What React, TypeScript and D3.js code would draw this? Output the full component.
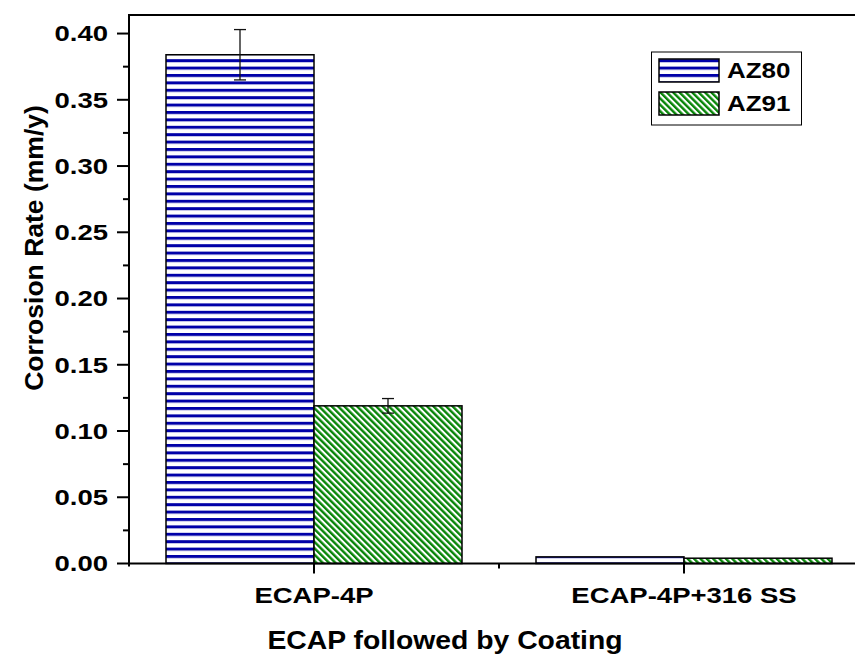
import React from "react";
import * as d3 from "d3";

const categories = ["ECAP-4P", "ECAP-4P+316 SS"];
const seriesNames = ["AZ80", "AZ91"];
const az80 = [0.384, 0.005];
const az80Err = [0.019, 0];
const az91 = [0.119, 0.004];
const az91Err = [0.0055, 0];
const yTicks = [0, 0.05, 0.1, 0.15, 0.2, 0.25, 0.3, 0.35, 0.4];
const yMinor = [0.025, 0.075, 0.125, 0.175, 0.225, 0.275, 0.325, 0.375];

const W = 855;
const H = 654;
const FONT = "'Liberation Sans', Arial, sans-serif";

function T({ x, y, sx = 1, anchor = "start", size, children, dy = "0" }: any) {
  return (
    <text
      transform={`translate(${x},${y}) scale(${sx},1)`}
      dy={dy}
      textAnchor={anchor}
      fontFamily={FONT}
      fontWeight="bold"
      fontSize={size}
      fill="#000"
    >
      {children}
    </text>
  );
}

export default function App() {
  const left = 129, top = 15, right = 869, bottom = 563.5;
  const x = d3.scaleLinear().domain([0.5, 2.5]).range([left, right]);
  const y = d3.scaleLinear().domain([0, 0.414]).range([bottom, top]);
  const bw = x(0.4) - x(0);
  const series = [
    { name: seriesNames[0], vals: az80, errs: az80Err, fill: "url(#hstripe)", off: -1 },
    { name: seriesNames[1], vals: az91, errs: az91Err, fill: "url(#dstripe)", off: 0 },
  ];
  return (
    <svg width={W} height={H} style={{ position: "absolute", left: 0, top: 0, background: "#fff" }}>
      <defs>
        <pattern id="hstripe" patternUnits="userSpaceOnUse" width={8} height={7.4}>
          <rect width={8} height={7.4} fill="#fff" />
          <rect y={0} width={8} height={3} fill="#0000a8" />
        </pattern>
        <pattern id="dstripe" patternUnits="userSpaceOnUse" width={4.5} height={8} patternTransform="rotate(-45)">
          <rect width={4.5} height={8} fill="#fff" />
          <rect x={0} width={2.4} height={8} fill="#078507" />
        </pattern>
      </defs>
      {series.map((s) =>
        s.vals.map((v, i) => {
          const x0 = x(i + 1) + s.off * bw;
          return (
            <g key={s.name + i}>
              <rect x={x0} y={y(v)} width={bw} height={y(0) - y(v)} fill={s.fill} stroke="#000" strokeWidth={1.5} />
              {s.errs[i] > 0 && (
                <g stroke="#111" strokeWidth={1.3}>
                  <line x1={x0 + bw / 2} x2={x0 + bw / 2} y1={y(v - s.errs[i])} y2={y(v + s.errs[i])} />
                  <line x1={x0 + bw / 2 - 6} x2={x0 + bw / 2 + 6} y1={y(v - s.errs[i])} y2={y(v - s.errs[i])} />
                  <line x1={x0 + bw / 2 - 6} x2={x0 + bw / 2 + 6} y1={y(v + s.errs[i])} y2={y(v + s.errs[i])} />
                </g>
              )}
            </g>
          );
        })
      )}
      <line x1={left} x2={right} y1={top} y2={top} stroke="#000" strokeWidth={2} />
      <line x1={left} x2={left} y1={top - 1} y2={bottom + 3} stroke="#000" strokeWidth={2} />
      <line x1={left - 1} x2={right} y1={bottom} y2={bottom} stroke="#000" strokeWidth={2} />
      {yTicks.map((t) => (
        <g key={t}>
          <line x1={left - 12} x2={left} y1={y(t)} y2={y(t)} stroke="#000" strokeWidth={2} />
          <T x={108} y={y(t)} dy="0.36em" anchor="end" size={21.5} sx={1.28}>
            {d3.format(".2f")(t)}
          </T>
        </g>
      ))}
      {yMinor.map((t) => (
        <line key={t} x1={left - 6} x2={left} y1={y(t)} y2={y(t)} stroke="#000" strokeWidth={2} />
      ))}
      {categories.map((c, i) => (
        <g key={c}>
          <line x1={x(i + 1)} x2={x(i + 1)} y1={bottom} y2={bottom + 10} stroke="#000" strokeWidth={2} />
          <T x={x(i + 1)} y={603} anchor="middle" size={22} sx={1.25}>
            {c}
          </T>
        </g>
      ))}
      <line x1={x(1.5)} x2={x(1.5)} y1={bottom} y2={bottom + 5} stroke="#000" strokeWidth={2} />
      <T x={445} y={649} anchor="middle" size={26} sx={1.09}>
        ECAP followed by Coating
      </T>
      <text transform="translate(43,248) rotate(-90)" textAnchor="middle" fontFamily={FONT} fontWeight="bold" fontSize={26.5}>
        Corrosion Rate (mm/y)
      </text>
      <rect x={651.5} y={52} width={150} height={73} fill="#fff" stroke="#000" strokeWidth={1} />
      {series.map((s, i) => (
        <g key={s.name}>
          <rect x={659} y={59 + i * 33} width={60} height={23} fill={s.fill} stroke="#000" strokeWidth={1.5} />
          <T x={727} y={70.5 + i * 33} dy="0.36em" size={22} sx={1.18}>
            {s.name}
          </T>
        </g>
      ))}
    </svg>
  );
}
